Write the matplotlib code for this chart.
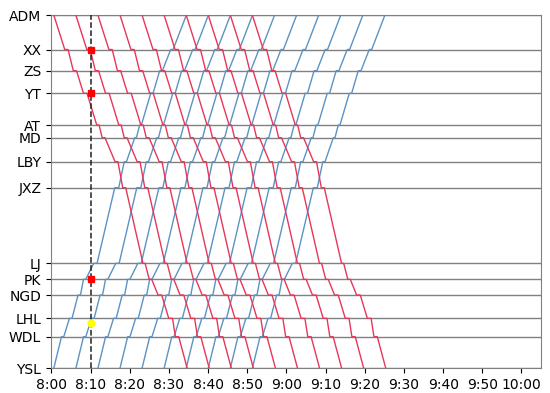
import numpy as np
import matplotlib
matplotlib.use("Agg")
import matplotlib.pyplot as plt

# stations from top (ADM) to bottom (YSL), chainage in km
stations = ['ADM', 'XX', 'ZS', 'YT', 'AT', 'MD', 'LBY', 'JXZ', 'LJ', 'PK', 'NGD', 'LHL', 'WDL', 'YSL']
station_km = [0, 3.45, 5.57, 7.83, 11.0, 12.27, 14.67, 17.27, 24.83, 26.43, 28.0, 30.33, 32.17, 35.33]

# down trains (ADM -> YSL): seconds after leaving ADM
down_arr = [0, 168, 299, 455, 658, 741, 939, 1056, 1366, 1462, 1597, 1761, 1863, 2044]
down_dep = [0, 219, 348, 510, 694, 784, 983, 1102, 1399, 1500, 1653, 1819, 1914, 2044]

# up trains (YSL -> ADM), listed in YSL..ADM order: seconds after leaving YSL
up_arr = [0, 118, 240, 372, 455, 612, 934, 1079, 1240, 1316, 1485, 1622, 1791, 2031]
up_dep = [0, 153, 280, 409, 490, 663, 995, 1113, 1266, 1342, 1521, 1664, 1828, 2031]

# first departures from the terminals
down_start = ['8:00:35', '8:06:13', '8:11:51', '8:17:29', '8:23:07',
              '8:28:45', '8:34:23', '8:40:01', '8:45:39', '8:51:17']
up_start = ['8:00:35', '8:06:13', '8:11:51', '8:17:29', '8:23:07',
            '8:28:45', '8:34:23', '8:40:01', '8:45:39', '8:51:17']

# snapshot at 8:10
snap_time = '8:10:00'
snap_stopped = ['XX', 'YT', 'PK']
snap_running_km = [30.83]


def to_min(s):
    h, m, sec = [int(v) for v in s.split(':')]
    return (h - 8) * 60 + m + sec / 60.0


def path(start, arr, dep, km):
    t, y = [], []
    for a, d, k in zip(arr, dep, km):
        t += [start + a / 60.0, start + d / 60.0]
        y += [k, k]
    return t, y


fig, ax = plt.subplots(figsize=(5.5, 3.93), dpi=100)
fig.subplots_adjust(left=0.0927, right=0.9845, top=0.9618, bottom=0.0628)

for k in station_km:
    ax.axhline(k, color='gray', lw=1, zorder=1)

up_km = station_km[::-1]
for s in up_start:
    t, y = path(to_min(s), up_arr, up_dep, up_km)
    ax.plot(t, y, color='#5b93c4', lw=1, zorder=2)

for s in down_start:
    t, y = path(to_min(s), down_arr, down_dep, station_km)
    ax.plot(t, y, color='#e8365a', lw=1, zorder=3)

t_snap = to_min(snap_time)
ax.axvline(t_snap, color='#222222', ls='--', lw=1.1, zorder=4)
ax.plot([t_snap] * len(snap_stopped),
        [station_km[stations.index(n)] for n in snap_stopped],
        's', color='red', ms=5, zorder=5)
ax.plot([t_snap] * len(snap_running_km), snap_running_km,
        'o', color='yellow', ms=5, zorder=5)

xt = np.arange(0, 121, 10)
ax.set_xticks(xt)
ax.set_xticklabels([f"{8 + m // 60}:{m % 60:02d}" for m in xt])
ax.set_yticks(station_km)
ax.set_yticklabels(stations)
ax.set_xlim(-0.13, 125.1)
ax.set_ylim(station_km[-1], station_km[0])
for sp in ax.spines.values():
    sp.set_color('gray')
ax.tick_params(labelsize=10)

plt.savefig('out.png', dpi=100)
